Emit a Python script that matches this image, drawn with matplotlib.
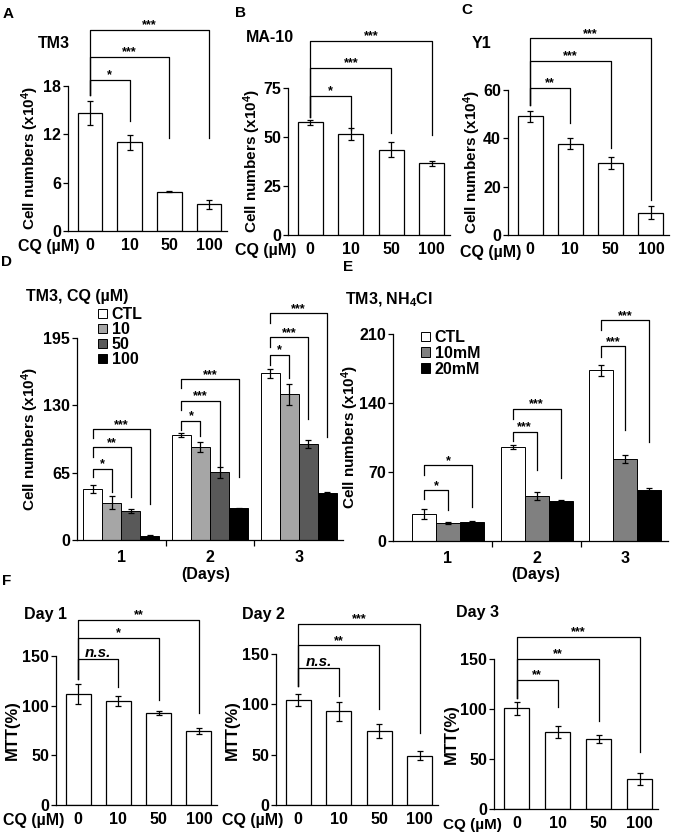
import matplotlib
matplotlib.use('Agg')
import matplotlib.pyplot as plt
from matplotlib.patches import Patch
from matplotlib.ticker import FixedLocator
import numpy as np

plt.rcParams['font.family'] = ['Liberation Sans', 'DejaVu Sans']
plt.rcParams['font.weight'] = 'bold'
plt.rcParams['mathtext.fontset'] = 'custom'
plt.rcParams['mathtext.rm'] = 'Liberation Sans:bold'
plt.rcParams['mathtext.bf'] = 'Liberation Sans:bold'
plt.rcParams['mathtext.default'] = 'bf'

W, H = 675, 832

# Panels A-C: cell numbers after CQ treatment
cq_doses = ['0', '10', '50', '100']
a_vals = [14.7, 11.0, 4.9, 3.3]
a_err = [1.5, 0.9, 0.05, 0.55]
a_sig = [(1, 18.8, 13.6, '*'), (2, 21.6, 11.5, '***'), (3, 25.0, 11.5, '***')]
b_vals = [57.5, 51.5, 43.5, 36.5]
b_err = [1.2, 3.0, 3.8, 1.1]
b_sig = [(1, 70.9, 53.6, '*'), (2, 85.4, 51.9, '***'), (3, 99.0, 51.0, '***')]
c_vals = [49.2, 37.8, 29.8, 9.2]
c_err = [2.3, 2.4, 2.4, 2.6]
c_sig = [(1, 60.9, 46.5, '**'), (2, 72.1, 36.0, '***'), (3, 81.4, 14.5, '***')]

# Panel D: TM3 + CQ over days
days = ['1', '2', '3']
d_names = ['CTL', '10', '50', '100']
d_ctl = [49.0, 101.4, 160.9]
d_10 = [36.0, 90.0, 140.6]
d_50 = [28.3, 65.3, 92.4]
d_100 = [4.2, 30.6, 45.0]
d_ctl_err = [4.0, 2.0, 4.5]
d_10_err = [6.0, 5.0, 10.0]
d_50_err = [2.0, 5.0, 4.0]
d_100_err = [0.5, 0.5, 1.0]
# (day, series, height, left leg end, right leg end, label)
d_sig = [(0, 1, 69, 61, 46.6, '*'), (0, 2, 89.5, 80, 41.8, '**'), (0, 3, 107, 98, 34.7, '***'),
         (1, 1, 115, 106, 100.7, '*'), (1, 2, 134.5, 125.5, 70.8, '***'), (1, 3, 155, 146.4, 61, '***'),
         (2, 1, 178.6, 169, 156, '*'), (2, 2, 195.7, 186.6, 116.8, '***'), (2, 3, 218.8, 209.2, 99.7, '***')]

# Panel E: TM3 + NH4Cl over days
e_names = ['CTL', '10mM', '20mM']
e_ctl = [27.2, 95.0, 173.0]
e_10 = [18.7, 45.8, 82.8]
e_20 = [19.4, 40.7, 51.6]
e_ctl_err = [5.0, 2.0, 6.0]
e_10_err = [1.0, 4.0, 4.0]
e_20_err = [1.0, 1.0, 2.5]
e_sig = [(0, 1, 51.6, 43, 31.2, '*'), (0, 2, 77, 67, 34.6, '*'),
         (1, 1, 111, 101.7, 72, '***'), (1, 2, 134, 124, 63.5, '***'),
         (2, 1, 197.4, 187, 112.6, '***'), (2, 2, 223.8, 214, 100.7, '***')]

# Panel F: MTT
f1_vals = [112, 104.5, 93, 74.7]
f1_err = [10, 5, 2, 3]
f1_sig = [(1, 146.7, 119, 'n.s.'), (2, 168.5, 105.5, '*'), (3, 186.6, 93, '**')]
f2_vals = [104, 93, 73.5, 49]
f2_err = [6, 9.5, 7, 4.5]
f2_sig = [(1, 135.6, 108, 'n.s.'), (2, 158.7, 95.5, '**'), (3, 179.8, 72, '***')]
f3_vals = [100.7, 77.3, 69.7, 30]
f3_err = [6.5, 6, 4, 6]
f3_sig = [(1, 129, 101.7, '**'), (2, 150.4, 88.3, '**'), (3, 172.3, 56.7, '***')]

fig = plt.figure(figsize=(W / 100, H / 100), dpi=100)
LW = 0.9
FS = 11


def box(l, r, t, b):
    return [l / W, 1 - b / H, (r - l) / W, (b - t) / H]


def ftext(x, y, s, **kw):
    kw.setdefault('ha', 'center')
    kw.setdefault('va', 'center')
    kw.setdefault('fontsize', FS)
    fig.text(x / W, 1 - y / H, s, **kw)


def style(ax, top, yticks):
    ax.set_ylim(0, top)
    ax.set_yticks(yticks)
    for s in ['top', 'right']:
        ax.spines[s].set_visible(False)
    for s in ['left', 'bottom']:
        ax.spines[s].set_linewidth(LW)
    ax.tick_params(axis='y', length=3.5, width=LW, pad=1.5, labelsize=FS + 0.5)
    ax.tick_params(axis='x', length=0, labelsize=FS + 0.5)


def star(ax, x, y, lab):
    if lab == 'n.s.':
        ax.annotate(lab, (x, y), xytext=(0, 1.5), textcoords='offset points',
                    ha='center', va='baseline', fontsize=11, style='italic',
                    annotation_clip=False)
    else:
        ax.annotate(lab, (x, y), xytext=(0, 1.0), textcoords='offset points',
                    ha='center', va='baseline', fontsize=9, annotation_clip=False)


def simple_panel(bx, vals, errs, top, yticks, sig, left_end):
    ax = fig.add_axes(box(*bx))
    x = np.arange(len(vals))
    ax.bar(x, vals, width=0.62, color='white', edgecolor='black', linewidth=LW,
           yerr=errs, capsize=2.5, error_kw=dict(elinewidth=LW, capthick=LW))
    ax.set_xlim(-0.55, 3.45)
    style(ax, top, yticks)
    ax.set_xticks(x, cq_doses)
    ax.tick_params(axis='x', pad=5)
    for j, h, yr, lab in sig:
        ax.plot([0, 0, j, j], [left_end, h, h, yr], color='black', lw=LW, clip_on=False)
        star(ax, j / 2, h, lab)
    return ax


simple_panel((68, 227, 86, 231), a_vals, a_err, 18, [0, 6, 12, 18], a_sig, 16.9)
simple_panel((288, 450, 88, 235), b_vals, b_err, 75, [0, 25, 50, 75], b_sig, 60.4)
simple_panel((508, 669, 90, 235), c_vals, c_err, 60, [0, 20, 40, 60], c_sig, 53.8)
simple_panel((56, 217, 656, 805), f1_vals, f1_err, 150, [0, 50, 100, 150], f1_sig, 127)
simple_panel((276, 438, 654, 805), f2_vals, f2_err, 150, [0, 50, 100, 150], f2_sig, 118)
simple_panel((494, 658, 659, 809), f3_vals, f3_err, 150, [0, 50, 100, 150], f3_sig, 111.3)


def group_panel(bx, xlim, series, errs, names, colors, width, top, yticks, sig):
    ax = fig.add_axes(box(*bx))
    x = np.arange(len(days))
    n = len(series)
    offs = (np.arange(n) - (n - 1) / 2) * width
    handles = []
    for i in range(n):
        ax.bar(x + offs[i], series[i], width=width, color=colors[i], edgecolor='black',
               linewidth=0.7, yerr=errs[i], capsize=2.5,
               error_kw=dict(elinewidth=LW, capthick=LW, ecolor='black'))
        handles.append(Patch(facecolor=colors[i], edgecolor='black', linewidth=0.7, label=names[i]))
    ax.set_xlim(*xlim)
    style(ax, top, yticks)
    ax.set_xticks(x, days)
    ax.tick_params(axis='x', pad=7)
    ax.xaxis.set_minor_locator(FixedLocator([0.5, 1.5]))
    ax.tick_params(axis='x', which='minor', length=4, width=LW, direction='out')
    for g, j, h, yl, yr, lab in sig:
        x0 = g + offs[0]
        x1 = g + offs[j]
        ax.plot([x0, x0, x1, x1], [yl, h, h, yr], color='black', lw=LW, clip_on=False)
        star(ax, (x0 + x1) / 2, h, lab)
    return ax, handles


axd, hd = group_panel((77, 343, 338, 540), (-0.5, 2.5),
                      [d_ctl, d_10, d_50, d_100], [d_ctl_err, d_10_err, d_50_err, d_100_err],
                      d_names, ['white', '#a6a6a6', '#595959', 'black'], 0.215,
                      195, [0, 65, 130, 195], d_sig)
axd.legend(handles=hd, loc='upper left', bbox_to_anchor=(98 / W, 1 - 307 / H),
           bbox_transform=fig.transFigure, frameon=False, fontsize=11.5,
           handlelength=0.55, handleheight=0.55, handletextpad=0.3,
           labelspacing=0.0, borderpad=0, borderaxespad=0)

axe, he = group_panel((393, 668, 334, 541), (-0.62, 2.48),
                      [e_ctl, e_10, e_20], [e_ctl_err, e_10_err, e_20_err],
                      e_names, ['white', '#808080', 'black'], 0.27,
                      210, [0, 70, 140, 210], e_sig)
axe.legend(handles=he, loc='upper left', bbox_to_anchor=(421 / W, 1 - 330 / H),
           bbox_transform=fig.transFigure, frameon=False, fontsize=11.5,
           handlelength=0.55, handleheight=0.55, handletextpad=0.3,
           labelspacing=0.05, borderpad=0, borderaxespad=0)

# panel letters
for lx, ly, s in [(8, 14, 'A'), (240, 13, 'B'), (467, 10, 'C'),
                  (7, 262, 'D'), (348, 267, 'E'), (7, 581, 'F')]:
    ftext(lx, ly, s, fontsize=11)

# titles
ftext(54, 43, 'TM3', fontsize=11.5)
ftext(270, 38, 'MA-10', fontsize=11.5)
ftext(482, 43, 'Y1', fontsize=11.5)
ftext(77, 297, 'TM3, CQ (µM)', fontsize=11.5)
ftext(389, 300, r'TM3, NH$_4$Cl', fontsize=11.5)
ftext(45, 615, 'Day 1', fontsize=11.5)
ftext(263, 615, 'Day 2', fontsize=11.5)
ftext(477, 613, 'Day 3', fontsize=11.5)

# y labels
cell_lab = r'Cell numbers (x10$^4$)'
for lx, ly in [(30, 158), (252, 161), (472, 162), (30, 439), (350, 437)]:
    ftext(lx, ly, cell_lab, rotation=90)
for lx, ly in [(12, 730), (232, 730), (451, 734)]:
    ftext(lx, ly, 'MTT(%)', rotation=90, fontsize=12)

# x labels
for lx, ly in [(49, 247), (266, 250), (491, 252), (34, 820), (253, 820)]:
    ftext(lx, ly, 'CQ (µM)', fontsize=11.5)
ftext(472, 825, 'CQ (µM)', fontsize=11)
ftext(206, 575, '(Days)', fontsize=11.5)
ftext(536, 575, '(Days)', fontsize=11.5)

fig.savefig('out.png', dpi=100)
